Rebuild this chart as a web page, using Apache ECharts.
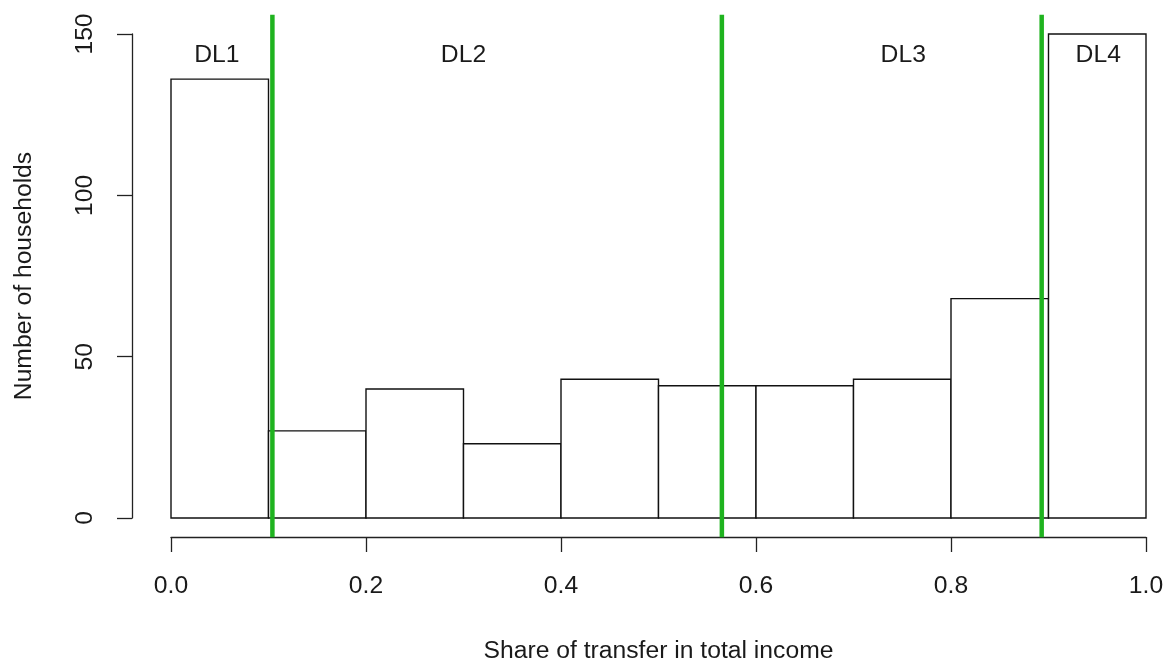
<!DOCTYPE html>
<html>
<head>
<meta charset="utf-8">
<script src="https://cdn.jsdelivr.net/npm/echarts@6/dist/echarts.min.js"></script>
<style>
html,body{margin:0;padding:0;background:#fff;}
#chart{width:1170px;height:662px;}
</style>
</head>
<body>
<div id="chart"></div>
<script>
// Histogram bins (share of transfer in total income)
const binStarts = [0.0, 0.1, 0.2, 0.3, 0.4, 0.5, 0.6, 0.7, 0.8, 0.9];
const binEnds   = [0.1, 0.2, 0.3, 0.4, 0.5, 0.6, 0.7, 0.8, 0.9, 1.0];
const counts    = [136, 27, 40, 23, 43, 41, 41, 43, 68, 150];
// Vertical threshold lines
const cutPoints = [0.104, 0.565, 0.893];
// Group labels
const groupNames = ['DL1', 'DL2', 'DL3', 'DL4'];
const groupX     = [0.047, 0.30, 0.751, 0.951];
const groupY     = [143.5, 143.5, 143.5, 143.5];
// Axis ticks
const xTicks = [0.0, 0.2, 0.4, 0.6, 0.8, 1.0];
const yTicks = [0, 50, 100, 150];
// R plotting region extends 4% beyond data range
const usrYMin = -6, usrYMax = 156;

const FONT = 'Liberation Sans, Arial, sans-serif';
const FS = 24.7;
const histData = binStarts.map((s, i) => [s, binEnds[i], counts[i]]);
const cutData = cutPoints.map(v => [v]);
const labelData = groupNames.map((n, i) => [groupX[i], groupY[i], n]);

const chart = echarts.init(document.getElementById('chart'), null, {renderer: 'canvas'});
chart.setOption({
  backgroundColor: '#ffffff',
  animation: false,
  grid: {left: 171, right: 24, top: 34, bottom: 144, containLabel: false, outerBoundsMode: 'none'},
  xAxis: {
    type: 'value', min: 0, max: 1, interval: 0.2, offset: 19,
    name: 'Share of transfer in total income', nameLocation: 'middle', nameGap: 114,
    nameTextStyle: {fontFamily: FONT, fontSize: FS, color: '#1a1a1a', verticalAlign: 'middle'},
    axisLine: {show: true, onZero: false, lineStyle: {color: '#222', width: 1.3}},
    axisTick: {show: true, inside: false, length: 15, lineStyle: {color: '#222', width: 1.3}},
    axisLabel: {fontFamily: FONT, fontSize: FS, color: '#1a1a1a', margin: 37,
      formatter: v => v.toFixed(1)},
    splitLine: {show: false}
  },
  yAxis: {
    type: 'value', min: 0, max: 150, interval: 50, offset: 39,
    name: 'Number of households', nameLocation: 'middle', nameGap: 108,
    nameTextStyle: {fontFamily: FONT, fontSize: FS, color: '#1a1a1a', verticalAlign: 'middle'},
    axisLine: {show: true, onZero: false, lineStyle: {color: '#222', width: 1.3}},
    axisTick: {show: true, inside: false, length: 15, lineStyle: {color: '#222', width: 1.3}},
    axisLabel: {fontFamily: FONT, fontSize: FS, color: '#1a1a1a', margin: 34, rotate: 90},
    splitLine: {show: false}
  },
  series: [
    {
      type: 'custom',
      data: histData,
      encode: {x: [0, 1], y: 2},
      renderItem: function (params, api) {
        const p0 = api.coord([api.value(0), 0]);
        const p1 = api.coord([api.value(1), api.value(2)]);
        return {
          type: 'rect',
          shape: {x: p0[0], y: p1[1], width: p1[0] - p0[0], height: p0[1] - p1[1]},
          style: {fill: '#ffffff', stroke: '#111', lineWidth: 1.4}
        };
      }
    },
    {
      type: 'custom',
      data: cutData,
      clip: false,
      encode: {x: 0},
      renderItem: function (params, api) {
        const top = api.coord([api.value(0), usrYMax]);
        const bot = api.coord([api.value(0), usrYMin]);
        return {
          type: 'line',
          shape: {x1: top[0], y1: top[1], x2: bot[0], y2: bot[1]},
          style: {stroke: '#1fb31f', lineWidth: 4.5}
        };
      }
    },
    {
      type: 'custom',
      data: labelData,
      clip: false,
      encode: {x: 0, y: 1},
      renderItem: function (params, api) {
        const p = api.coord([api.value(0), api.value(1)]);
        return {
          type: 'text',
          x: p[0], y: p[1],
          style: {text: labelData[params.dataIndex][2], fontFamily: FONT, fontSize: FS,
            fill: '#1a1a1a', align: 'center', verticalAlign: 'middle'}
        };
      }
    }
  ]
});
</script>
</body>
</html>
